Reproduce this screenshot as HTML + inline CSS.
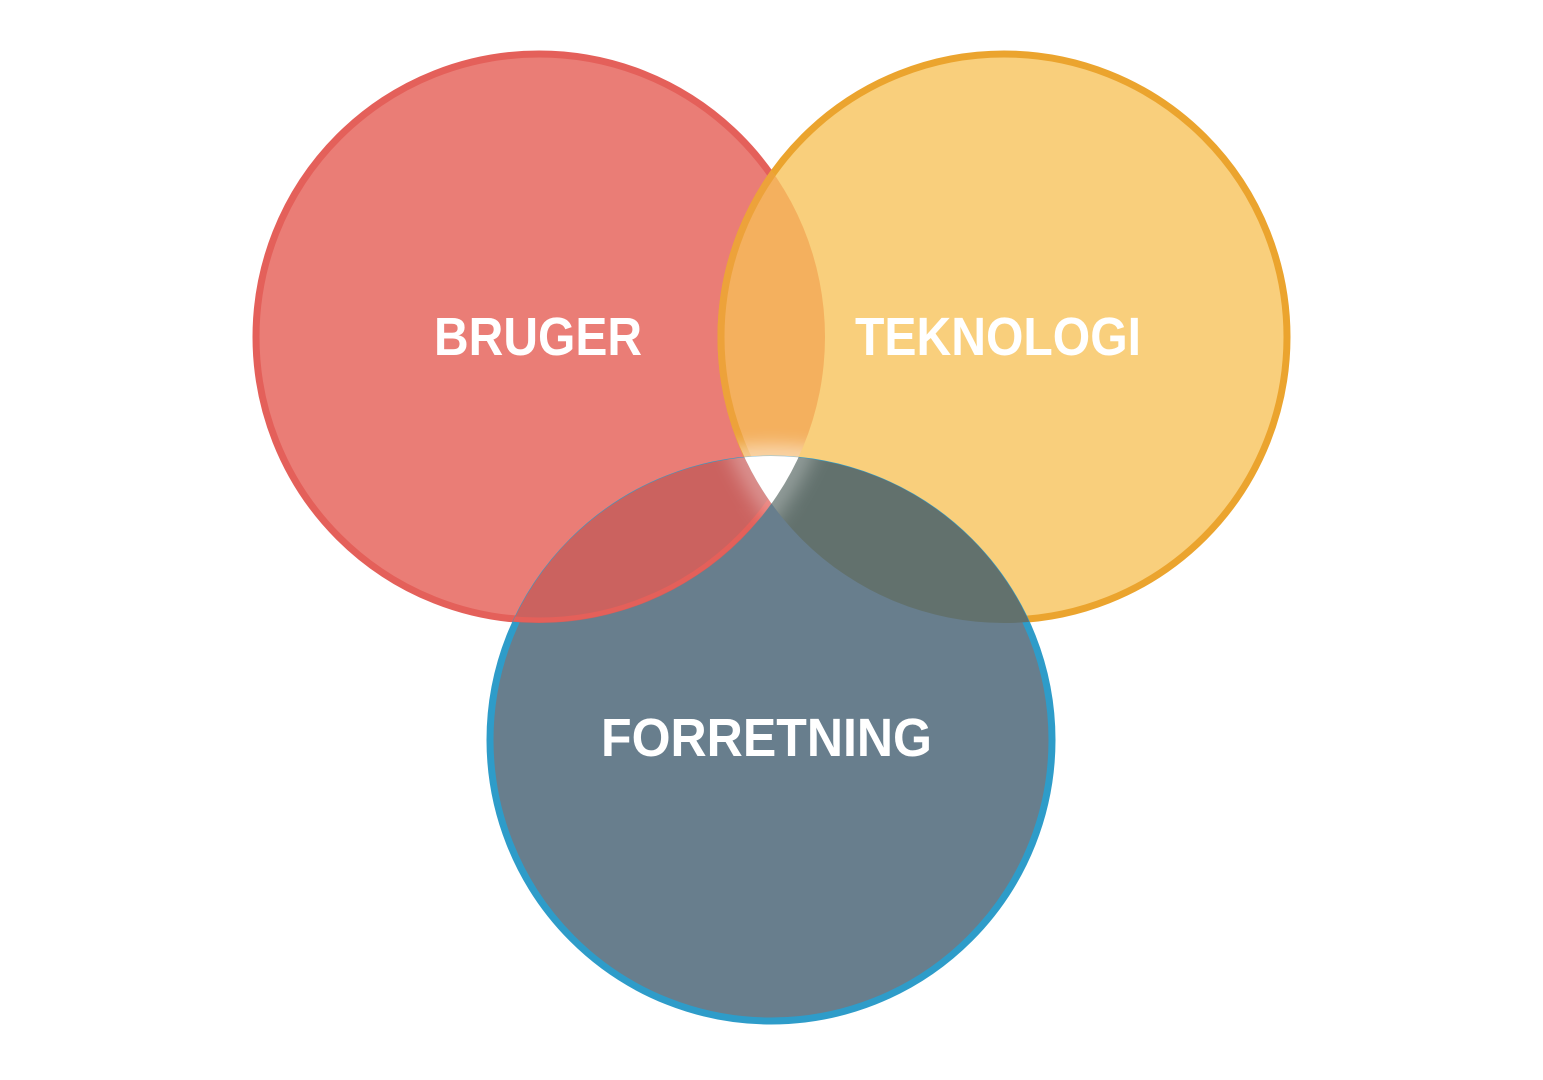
<!DOCTYPE html>
<html><head><meta charset="utf-8"><style>
html,body{margin:0;padding:0;background:#fff;}
svg{display:block}
</style></head><body>
<svg width="1543" height="1080" viewBox="0 0 1543 1080" xmlns="http://www.w3.org/2000/svg">
<defs>
<clipPath id="cr"><circle cx="539" cy="337" r="286"/></clipPath>
<clipPath id="cy"><circle cx="1004" cy="337" r="286"/></clipPath>
<clipPath id="cb"><circle cx="771" cy="740" r="284"/></clipPath>
<filter id="bl" x="-50%" y="-50%" width="200%" height="200%"><feGaussianBlur stdDeviation="10"/></filter>
<filter id="bl2" x="-50%" y="-50%" width="200%" height="200%"><feGaussianBlur stdDeviation="12"/></filter>
</defs>
<circle cx="539" cy="337" r="283" fill="#EA7D76" stroke="#E4605A" stroke-width="7"/>
<circle cx="1004" cy="337" r="283" fill="#F9CF7C" stroke="#EBA42E" stroke-width="7"/>
<g clip-path="url(#cr)"><circle cx="1004" cy="337" r="283" fill="#F4B05E" stroke="#EDA23A" stroke-width="7"/></g>
<circle cx="771" cy="740" r="281" fill="#687E8D" stroke="#2E9CC9" stroke-width="7"/>
<g clip-path="url(#cb)">
<circle cx="539" cy="337" r="286" fill="#CB625F"/>
<circle cx="539" cy="337" r="283" fill="none" stroke="#E4605A" stroke-width="5"/>
<circle cx="1004" cy="337" r="286" fill="#62716D"/>
</g>
<g clip-path="url(#cr)"><g clip-path="url(#cy)"><g clip-path="url(#cb)">
<rect x="600" y="400" width="340" height="200" fill="#fff"/>
</g></g></g>
<g clip-path="url(#cr)"><g clip-path="url(#cy)">
<circle cx="771" cy="740" r="284" fill="none" stroke="#fff" stroke-width="14" filter="url(#bl)" opacity="0.8"/>
</g></g>
<g clip-path="url(#cb)" opacity="0.7">
<circle cx="539" cy="337" r="286" fill="none" stroke="#fff" stroke-width="12" filter="url(#bl2)" clip-path="url(#cy)"/>
<circle cx="1004" cy="337" r="286" fill="none" stroke="#fff" stroke-width="12" filter="url(#bl2)" clip-path="url(#cr)"/>
</g>
<g font-family="'Liberation Sans',sans-serif" font-weight="bold" font-size="54" fill="#fff">
<text x="434" y="355" textLength="208" lengthAdjust="spacingAndGlyphs">BRUGER</text>
<text x="855" y="355" textLength="286" lengthAdjust="spacingAndGlyphs">TEKNOLOGI</text>
<text x="601" y="756" textLength="331" lengthAdjust="spacingAndGlyphs">FORRETNING</text>
</g>
</svg>
</body></html>
